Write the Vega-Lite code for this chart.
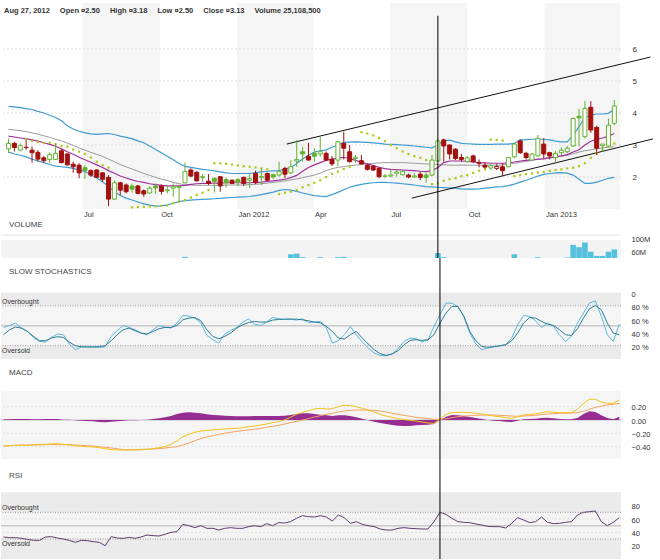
{
"$schema":"https://vega.github.io/schema/vega-lite/v6.json",
"padding":{"top":3,"left":0,"right":0,"bottom":0},
"background":"white",
"bounds":"flush",
"spacing":0,
"config":{"view":{"stroke":null},"font":"Liberation Sans","axis":{"labelFont":"Liberation Sans","labelColor":"#333","domain":false,"ticks":false,"grid":false,"labelOverlap":false},"title":{"font":"Liberation Sans"}},
"datasets":{"w":[
{"d":"2011-04-04","o":2.88,"h":3.2,"l":2.75,"c":3.05,"bu":4.21,"bl":2.78,"ma":3.28,"mb":3.49,"sar":null,"v":35,"k":47.5,"kd":36.5,"m":-0.39,"s":-0.39,"hi":0.01,"r":33},
{"d":"2011-04-11","o":3.05,"h":3.1,"l":2.8,"c":2.92,"bu":4.19,"bl":2.72,"ma":3.25,"mb":3.47,"sar":null,"v":28,"k":50.5,"kd":44,"m":-0.385,"s":-0.385,"hi":0.01,"r":32},
{"d":"2011-04-18","o":2.84,"h":3.05,"l":2.8,"c":2.98,"bu":4.17,"bl":2.68,"ma":3.22,"mb":3.45,"sar":null,"v":25,"k":54,"kd":48,"m":-0.38,"s":-0.38,"hi":0.015,"r":32},
{"d":"2011-04-25","o":2.93,"h":3.15,"l":2.85,"c":2.92,"bu":4.14,"bl":2.63,"ma":3.19,"mb":3.42,"sar":3.18,"v":30,"k":46.5,"kd":46.5,"m":-0.38,"s":-0.375,"hi":0.015,"r":31},
{"d":"2011-05-02","o":2.84,"h":2.95,"l":2.45,"c":2.76,"bu":4.11,"bl":2.56,"ma":3.16,"mb":3.38,"sar":3.13,"v":33,"k":41.5,"kd":41.5,"m":-0.38,"s":-0.375,"hi":0.015,"r":29.5},
{"d":"2011-05-09","o":2.77,"h":2.84,"l":2.48,"c":2.56,"bu":4.05,"bl":2.5,"ma":3.12,"mb":3.34,"sar":3.1,"v":27,"k":32.5,"kd":34,"m":-0.375,"s":-0.37,"hi":0.01,"r":28},
{"d":"2011-05-16","o":2.6,"h":2.66,"l":2.45,"c":2.51,"bu":4.0,"bl":2.45,"ma":3.07,"mb":3.29,"sar":3.07,"v":22,"k":26.5,"kd":27.5,"m":-0.375,"s":-0.365,"hi":0.01,"r":28},
{"d":"2011-05-23","o":2.55,"h":2.78,"l":2.43,"c":2.7,"bu":3.93,"bl":2.39,"ma":3.02,"mb":3.24,"sar":3.07,"v":26,"k":25.5,"kd":27.5,"m":-0.37,"s":-0.365,"hi":0.015,"r":33},
{"d":"2011-05-30","o":2.55,"h":3.05,"l":2.53,"c":2.74,"bu":3.86,"bl":2.34,"ma":2.96,"mb":3.18,"sar":3.03,"v":30,"k":32.5,"kd":31.5,"m":-0.355,"s":-0.365,"hi":0.015,"r":33.5},
{"d":"2011-06-06","o":2.82,"h":2.86,"l":2.43,"c":2.45,"bu":3.76,"bl":2.32,"ma":2.88,"mb":3.13,"sar":2.97,"v":28,"k":37.5,"kd":33.5,"m":-0.355,"s":-0.37,"hi":0.015,"r":31.5},
{"d":"2011-06-13","o":2.72,"h":2.75,"l":2.35,"c":2.38,"bu":3.6,"bl":2.3,"ma":2.79,"mb":3.06,"sar":2.95,"v":24,"k":36.5,"kd":32.5,"m":-0.365,"s":-0.37,"hi":0.005,"r":30},
{"d":"2011-06-20","o":2.4,"h":2.48,"l":2.13,"c":2.32,"bu":3.5,"bl":2.27,"ma":2.71,"mb":2.99,"sar":2.86,"v":26,"k":22.5,"kd":25.5,"m":-0.375,"s":-0.37,"hi":0.005,"r":28},
{"d":"2011-06-27","o":2.37,"h":2.43,"l":1.96,"c":2.13,"bu":3.43,"bl":2.22,"ma":2.62,"mb":2.91,"sar":2.79,"v":32,"k":14,"kd":20,"m":-0.39,"s":-0.375,"hi":-0.005,"r":25},
{"d":"2011-07-04","o":2.29,"h":2.37,"l":1.94,"c":2.2,"bu":3.38,"bl":2.17,"ma":2.54,"mb":2.84,"sar":2.72,"v":29,"k":18,"kd":18.5,"m":-0.395,"s":-0.38,"hi":-0.01,"r":28},
{"d":"2011-07-11","o":2.2,"h":2.24,"l":2.0,"c":2.06,"bu":3.35,"bl":2.07,"ma":2.46,"mb":2.77,"sar":2.61,"v":22,"k":19,"kd":18,"m":-0.4,"s":-0.385,"hi":-0.015,"r":27.5},
{"d":"2011-07-18","o":2.22,"h":2.24,"l":1.97,"c":1.99,"bu":3.33,"bl":1.97,"ma":2.38,"mb":2.71,"sar":2.48,"v":25,"k":18.5,"kd":18,"m":-0.405,"s":-0.39,"hi":-0.02,"r":26},
{"d":"2011-07-25","o":2.13,"h":2.16,"l":1.85,"c":1.93,"bu":3.35,"bl":1.85,"ma":2.3,"mb":2.64,"sar":2.37,"v":27,"k":17.5,"kd":18.5,"m":-0.415,"s":-0.4,"hi":-0.03,"r":25},
{"d":"2011-08-01","o":1.99,"h":2.06,"l":1.09,"c":1.31,"bu":3.36,"bl":1.7,"ma":2.2,"mb":2.56,"sar":2.29,"v":40,"k":18.5,"kd":20,"m":-0.43,"s":-0.41,"hi":-0.035,"r":20},
{"d":"2011-08-08","o":1.31,"h":1.9,"l":1.28,"c":1.82,"bu":3.33,"bl":1.55,"ma":2.12,"mb":2.48,"sar":null,"v":38,"k":34,"kd":27.5,"m":-0.445,"s":-0.42,"hi":-0.025,"r":33.5},
{"d":"2011-08-15","o":1.82,"h":1.85,"l":1.43,"c":1.59,"bu":3.28,"bl":1.42,"ma":2.03,"mb":2.39,"sar":null,"v":30,"k":42.5,"kd":36.5,"m":-0.45,"s":-0.43,"hi":-0.02,"r":31.5},
{"d":"2011-08-22","o":1.75,"h":1.8,"l":1.49,"c":1.54,"bu":3.24,"bl":1.34,"ma":1.97,"mb":2.32,"sar":null,"v":26,"k":50.5,"kd":44,"m":-0.45,"s":-0.445,"hi":-0.01,"r":31},
{"d":"2011-08-29","o":1.72,"h":1.8,"l":1.51,"c":1.62,"bu":3.2,"bl":1.28,"ma":1.91,"mb":2.25,"sar":1.05,"v":22,"k":47.5,"kd":46.5,"m":-0.45,"s":-0.445,"hi":-0.005,"r":32.5},
{"d":"2011-09-05","o":1.72,"h":1.75,"l":1.46,"c":1.49,"bu":3.13,"bl":1.22,"ma":1.86,"mb":2.18,"sar":1.06,"v":25,"k":44,"kd":42.5,"m":-0.45,"s":-0.445,"hi":-0.005,"r":31},
{"d":"2011-09-12","o":1.57,"h":1.61,"l":1.38,"c":1.47,"bu":3.07,"bl":1.16,"ma":1.83,"mb":2.11,"sar":1.07,"v":24,"k":39,"kd":39,"m":-0.445,"s":-0.44,"hi":0,"r":33},
{"d":"2011-09-19","o":1.5,"h":1.72,"l":1.47,"c":1.65,"bu":2.97,"bl":1.12,"ma":1.79,"mb":2.05,"sar":1.08,"v":28,"k":36.5,"kd":37.5,"m":-0.44,"s":-0.44,"hi":0.005,"r":36},
{"d":"2011-09-26","o":1.72,"h":1.8,"l":1.47,"c":1.66,"bu":2.86,"bl":1.09,"ma":1.76,"mb":1.99,"sar":1.09,"v":30,"k":44,"kd":41.5,"m":-0.43,"s":-0.435,"hi":0.015,"r":35},
{"d":"2011-10-03","o":1.72,"h":1.77,"l":1.45,"c":1.55,"bu":2.76,"bl":1.1,"ma":1.74,"mb":1.93,"sar":1.1,"v":27,"k":50.5,"kd":45.5,"m":-0.415,"s":-0.43,"hi":0.025,"r":34.5},
{"d":"2011-10-10","o":1.57,"h":1.72,"l":1.49,"c":1.6,"bu":2.65,"bl":1.13,"ma":1.72,"mb":1.89,"sar":1.11,"v":25,"k":48,"kd":47.5,"m":-0.4,"s":-0.42,"hi":0.04,"r":37},
{"d":"2011-10-17","o":1.65,"h":1.8,"l":1.38,"c":1.7,"bu":2.54,"bl":1.18,"ma":1.72,"mb":1.83,"sar":1.18,"v":32,"k":46.5,"kd":47.5,"m":-0.365,"s":-0.41,"hi":0.06,"r":40},
{"d":"2011-10-24","o":1.67,"h":1.72,"l":1.23,"c":1.7,"bu":2.42,"bl":1.23,"ma":1.72,"mb":1.79,"sar":1.23,"v":36,"k":54,"kd":50.5,"m":-0.315,"s":-0.4,"hi":0.09,"r":41},
{"d":"2011-10-31","o":1.82,"h":2.45,"l":1.8,"c":2.17,"bu":2.33,"bl":1.26,"ma":1.74,"mb":1.76,"sar":1.28,"v":48,"k":65.5,"kd":59,"m":-0.25,"s":-0.375,"hi":0.11,"r":52},
{"d":"2011-11-07","o":2.22,"h":2.27,"l":1.99,"c":2.03,"bu":2.3,"bl":1.28,"ma":1.77,"mb":1.75,"sar":1.36,"v":34,"k":64.5,"kd":61.5,"m":-0.215,"s":-0.345,"hi":0.115,"r":50},
{"d":"2011-11-14","o":2.15,"h":2.18,"l":1.86,"c":1.88,"bu":2.27,"bl":1.29,"ma":1.79,"mb":1.74,"sar":1.44,"v":26,"k":61.5,"kd":62.5,"m":-0.185,"s":-0.31,"hi":0.11,"r":47},
{"d":"2011-11-21","o":1.98,"h":2.09,"l":1.85,"c":2.01,"bu":2.24,"bl":1.3,"ma":1.8,"mb":1.74,"sar":1.51,"v":22,"k":54,"kd":57.5,"m":-0.165,"s":-0.28,"hi":0.1,"r":50},
{"d":"2011-11-28","o":1.87,"h":2.09,"l":1.75,"c":1.8,"bu":2.22,"bl":1.31,"ma":1.8,"mb":1.74,"sar":1.59,"v":28,"k":35.5,"kd":44,"m":-0.155,"s":-0.255,"hi":0.085,"r":46},
{"d":"2011-12-05","o":1.96,"h":1.99,"l":1.51,"c":1.86,"bu":2.19,"bl":1.32,"ma":1.81,"mb":1.74,"sar":2.43,"v":24,"k":29,"kd":34,"m":-0.15,"s":-0.235,"hi":0.075,"r":46},
{"d":"2011-12-12","o":2.01,"h":2.03,"l":1.54,"c":1.72,"bu":2.16,"bl":1.33,"ma":1.81,"mb":1.74,"sar":2.43,"v":30,"k":24,"kd":30.5,"m":-0.14,"s":-0.215,"hi":0.07,"r":43.5},
{"d":"2011-12-19","o":1.92,"h":1.99,"l":1.67,"c":1.82,"bu":2.13,"bl":1.35,"ma":1.82,"mb":1.75,"sar":2.41,"v":22,"k":37.5,"kd":34,"m":-0.135,"s":-0.2,"hi":0.065,"r":46},
{"d":"2011-12-26","o":1.9,"h":1.93,"l":1.78,"c":1.8,"bu":2.11,"bl":1.36,"ma":1.82,"mb":1.75,"sar":2.39,"v":18,"k":43,"kd":39,"m":-0.13,"s":-0.185,"hi":0.06,"r":47},
{"d":"2012-01-02","o":1.92,"h":1.96,"l":1.72,"c":1.84,"bu":2.11,"bl":1.37,"ma":1.82,"mb":1.75,"sar":2.36,"v":24,"k":47.5,"kd":46.5,"m":-0.125,"s":-0.17,"hi":0.055,"r":46},
{"d":"2012-01-09","o":1.99,"h":2.01,"l":1.72,"c":1.8,"bu":2.11,"bl":1.38,"ma":1.82,"mb":1.75,"sar":2.34,"v":20,"k":55.5,"kd":51.5,"m":-0.115,"s":-0.16,"hi":0.055,"r":46},
{"d":"2012-01-16","o":1.9,"h":2.09,"l":1.65,"c":1.95,"bu":2.11,"bl":1.39,"ma":1.82,"mb":1.76,"sar":2.32,"v":26,"k":60.5,"kd":55,"m":-0.1,"s":-0.15,"hi":0.055,"r":48.5},
{"d":"2012-01-23","o":2.11,"h":2.2,"l":1.78,"c":1.82,"bu":2.14,"bl":1.42,"ma":1.83,"mb":1.77,"sar":2.3,"v":22,"k":52.5,"kd":56.5,"m":-0.09,"s":-0.14,"hi":0.06,"r":50},
{"d":"2012-01-30","o":1.98,"h":2.27,"l":1.75,"c":2.02,"bu":2.16,"bl":1.45,"ma":1.84,"mb":1.79,"sar":2.27,"v":34,"k":50.5,"kd":55.5,"m":-0.075,"s":-0.125,"hi":0.06,"r":48.5},
{"d":"2012-02-06","o":2.11,"h":2.14,"l":1.86,"c":1.9,"bu":2.18,"bl":1.49,"ma":1.86,"mb":1.81,"sar":2.24,"v":28,"k":55.5,"kd":55.5,"m":-0.06,"s":-0.11,"hi":0.06,"r":53},
{"d":"2012-02-13","o":2.07,"h":2.11,"l":1.93,"c":2.0,"bu":2.19,"bl":1.53,"ma":1.88,"mb":1.83,"sar":null,"v":30,"k":62.5,"kd":58.5,"m":-0.04,"s":-0.095,"hi":0.06,"r":50},
{"d":"2012-02-20","o":2.06,"h":2.48,"l":2.01,"c":2.17,"bu":2.2,"bl":1.58,"ma":1.9,"mb":1.85,"sar":1.47,"v":38,"k":60.5,"kd":59.5,"m":-0.025,"s":-0.08,"hi":0.06,"r":54.5},
{"d":"2012-02-27","o":2.27,"h":2.32,"l":1.96,"c":2.09,"bu":2.25,"bl":1.61,"ma":1.93,"mb":1.88,"sar":1.51,"v":40,"k":59.5,"kd":60,"m":0,"s":-0.06,"hi":0.065,"r":54},
{"d":"2012-03-05","o":2.13,"h":2.53,"l":2.09,"c":2.32,"bu":2.3,"bl":1.59,"ma":1.98,"mb":1.91,"sar":1.54,"v":56,"k":60,"kd":60,"m":0.04,"s":-0.04,"hi":0.075,"r":56},
{"d":"2012-03-12","o":2.5,"h":3.16,"l":2.32,"c":2.55,"bu":2.42,"bl":1.55,"ma":2.05,"mb":1.94,"sar":1.59,"v":58,"k":58.5,"kd":60,"m":0.085,"s":-0.02,"hi":0.09,"r":61},
{"d":"2012-03-19","o":2.79,"h":2.95,"l":2.48,"c":2.72,"bu":2.56,"bl":1.5,"ma":2.18,"mb":1.98,"sar":1.68,"v":47,"k":60.5,"kd":59,"m":0.115,"s":0,"hi":0.1,"r":65},
{"d":"2012-03-26","o":2.65,"h":3.07,"l":2.51,"c":2.53,"bu":2.68,"bl":1.46,"ma":2.3,"mb":2.02,"sar":1.75,"v":38,"k":55,"kd":57.5,"m":0.14,"s":0.02,"hi":0.1,"r":63.5},
{"d":"2012-04-02","o":2.74,"h":2.9,"l":2.48,"c":2.65,"bu":2.78,"bl":1.42,"ma":2.38,"mb":2.06,"sar":1.82,"v":40,"k":55.5,"kd":55.5,"m":0.165,"s":0.045,"hi":0.09,"r":63},
{"d":"2012-04-09","o":2.72,"h":3.26,"l":2.64,"c":2.79,"bu":2.82,"bl":1.4,"ma":2.45,"mb":2.12,"sar":1.9,"v":47,"k":56.5,"kd":54.5,"m":0.175,"s":0.065,"hi":0.08,"r":65},
{"d":"2012-04-16","o":2.74,"h":2.8,"l":2.5,"c":2.53,"bu":2.85,"bl":1.39,"ma":2.52,"mb":2.2,"sar":2.0,"v":36,"k":46.5,"kd":49,"m":0.165,"s":0.085,"hi":0.07,"r":63},
{"d":"2012-04-23","o":2.55,"h":2.66,"l":2.34,"c":2.41,"bu":2.93,"bl":1.45,"ma":2.56,"mb":2.26,"sar":2.1,"v":40,"k":24,"kd":41.5,"m":0.17,"s":0.1,"hi":0.06,"r":57},
{"d":"2012-04-30","o":2.53,"h":3.13,"l":2.34,"c":3.1,"bu":3.0,"bl":1.52,"ma":2.6,"mb":2.3,"sar":2.17,"v":47,"k":27.5,"kd":31.5,"m":0.2,"s":0.12,"hi":0.07,"r":66},
{"d":"2012-05-07","o":3.05,"h":3.42,"l":2.55,"c":2.9,"bu":3.08,"bl":1.6,"ma":2.61,"mb":2.33,"sar":2.25,"v":48,"k":36.5,"kd":30,"m":0.22,"s":0.135,"hi":0.07,"r":62},
{"d":"2012-05-14","o":2.79,"h":3.0,"l":2.45,"c":2.48,"bu":3.09,"bl":1.68,"ma":2.58,"mb":2.35,"sar":2.32,"v":38,"k":49,"kd":36.5,"m":0.215,"s":0.145,"hi":0.06,"r":53.5},
{"d":"2012-05-21","o":2.58,"h":2.69,"l":2.45,"c":2.62,"bu":3.1,"bl":1.73,"ma":2.52,"mb":2.37,"sar":null,"v":30,"k":36.5,"kd":41.5,"m":0.2,"s":0.15,"hi":0.04,"r":56},
{"d":"2012-05-28","o":2.51,"h":2.69,"l":2.38,"c":2.41,"bu":3.09,"bl":1.77,"ma":2.46,"mb":2.39,"sar":3.4,"v":28,"k":25.5,"kd":31.5,"m":0.175,"s":0.15,"hi":0.02,"r":52},
{"d":"2012-06-04","o":2.37,"h":2.4,"l":2.2,"c":2.24,"bu":3.08,"bl":1.8,"ma":2.41,"mb":2.41,"sar":3.36,"v":30,"k":16.5,"kd":22.5,"m":0.15,"s":0.15,"hi":-0.005,"r":50},
{"d":"2012-06-11","o":2.34,"h":2.38,"l":2.19,"c":2.22,"bu":3.07,"bl":1.82,"ma":2.36,"mb":2.43,"sar":3.3,"v":26,"k":9,"kd":14,"m":0.12,"s":0.145,"hi":-0.025,"r":48.5},
{"d":"2012-06-18","o":2.27,"h":2.3,"l":1.96,"c":2.01,"bu":3.05,"bl":1.83,"ma":2.3,"mb":2.44,"sar":3.22,"v":25,"k":5.5,"kd":8,"m":0.085,"s":0.135,"hi":-0.045,"r":45},
{"d":"2012-06-25","o":2.03,"h":2.1,"l":1.96,"c":2.03,"bu":3.03,"bl":1.83,"ma":2.26,"mb":2.45,"sar":3.12,"v":22,"k":5,"kd":5.5,"m":0.06,"s":0.12,"hi":-0.06,"r":43.5},
{"d":"2012-07-02","o":2.03,"h":2.24,"l":1.99,"c":2.06,"bu":3.02,"bl":1.82,"ma":2.24,"mb":2.45,"sar":3.0,"v":20,"k":7.5,"kd":7.5,"m":0.04,"s":0.1,"hi":-0.075,"r":43.5},
{"d":"2012-07-09","o":2.12,"h":2.24,"l":2.01,"c":2.16,"bu":3.01,"bl":1.81,"ma":2.23,"mb":2.45,"sar":2.9,"v":24,"k":15.5,"kd":12.5,"m":0.02,"s":0.085,"hi":-0.085,"r":46},
{"d":"2012-07-16","o":2.07,"h":2.22,"l":2.04,"c":2.18,"bu":3.0,"bl":1.79,"ma":2.22,"mb":2.45,"sar":2.8,"v":22,"k":26.5,"kd":21.5,"m":0.005,"s":0.07,"hi":-0.09,"r":47},
{"d":"2012-07-23","o":2.06,"h":2.1,"l":1.96,"c":2.0,"bu":2.99,"bl":1.77,"ma":2.21,"mb":2.44,"sar":2.72,"v":25,"k":31.5,"kd":28,"m":-0.005,"s":0.055,"hi":-0.09,"r":46},
{"d":"2012-07-30","o":2.0,"h":2.12,"l":1.98,"c":2.03,"bu":2.97,"bl":1.75,"ma":2.2,"mb":2.43,"sar":2.65,"v":30,"k":30.5,"kd":29,"m":-0.015,"s":0.04,"hi":-0.08,"r":45.5},
{"d":"2012-08-06","o":2.09,"h":2.17,"l":1.9,"c":1.99,"bu":2.95,"bl":1.72,"ma":2.18,"mb":2.42,"sar":2.6,"v":26,"k":25.5,"kd":28,"m":-0.03,"s":0.03,"hi":-0.075,"r":45},
{"d":"2012-08-13","o":2.06,"h":2.14,"l":1.82,"c":1.99,"bu":2.93,"bl":1.7,"ma":2.17,"mb":2.41,"sar":2.53,"v":32,"k":29,"kd":29,"m":-0.045,"s":0.02,"hi":-0.07,"r":45},
{"d":"2012-08-20","o":2.06,"h":2.69,"l":2.03,"c":2.53,"bu":2.91,"bl":1.69,"ma":2.2,"mb":2.4,"sar":1.78,"v":42,"k":49,"kd":36.5,"m":-0.05,"s":0.01,"hi":-0.06,"r":56},
{"d":"2012-08-27","o":2.5,"h":3.18,"l":2.5,"c":3.13,"bu":3.0,"bl":1.68,"ma":2.3,"mb":2.39,"sar":1.8,"v":60,"k":66.5,"kd":54,"m":0.01,"s":0.01,"hi":0,"r":70},
{"d":"2012-09-03","o":3.16,"h":3.2,"l":2.48,"c":2.97,"bu":3.13,"bl":1.67,"ma":2.45,"mb":2.38,"sar":1.88,"v":47,"k":84,"kd":69,"m":0.085,"s":0.02,"hi":0.05,"r":67},
{"d":"2012-09-10","o":3.0,"h":3.02,"l":2.55,"c":2.72,"bu":3.15,"bl":1.66,"ma":2.5,"mb":2.37,"sar":1.93,"v":36,"k":84,"kd":79,"m":0.11,"s":0.035,"hi":0.075,"r":61},
{"d":"2012-09-17","o":2.87,"h":2.9,"l":2.53,"c":2.58,"bu":3.1,"bl":1.65,"ma":2.5,"mb":2.37,"sar":1.96,"v":30,"k":79,"kd":79,"m":0.115,"s":0.05,"hi":0.07,"r":56},
{"d":"2012-09-24","o":2.61,"h":2.72,"l":2.48,"c":2.55,"bu":3.05,"bl":1.63,"ma":2.5,"mb":2.37,"sar":2.03,"v":28,"k":64,"kd":64,"m":0.115,"s":0.06,"hi":0.06,"r":55},
{"d":"2012-10-01","o":2.48,"h":2.66,"l":2.45,"c":2.6,"bu":3.04,"bl":1.62,"ma":2.49,"mb":2.37,"sar":2.06,"v":26,"k":39,"kd":41.5,"m":0.11,"s":0.065,"hi":0.045,"r":54.5},
{"d":"2012-10-08","o":2.66,"h":2.7,"l":2.45,"c":2.48,"bu":3.03,"bl":1.62,"ma":2.47,"mb":2.37,"sar":2.13,"v":24,"k":22.5,"kd":27.5,"m":0.1,"s":0.07,"hi":0.03,"r":52.5},
{"d":"2012-10-15","o":2.45,"h":2.55,"l":2.3,"c":2.43,"bu":3.02,"bl":1.63,"ma":2.45,"mb":2.37,"sar":2.2,"v":22,"k":14,"kd":19,"m":0.09,"s":0.075,"hi":0.015,"r":51},
{"d":"2012-10-22","o":2.37,"h":2.45,"l":2.27,"c":2.31,"bu":3.02,"bl":1.65,"ma":2.44,"mb":2.37,"sar":2.24,"v":26,"k":16.5,"kd":17.5,"m":0.075,"s":0.075,"hi":0,"r":49},
{"d":"2012-10-29","o":2.28,"h":2.41,"l":2.22,"c":2.35,"bu":3.02,"bl":1.67,"ma":2.43,"mb":2.37,"sar":3.17,"v":24,"k":18.5,"kd":18.5,"m":0.06,"s":0.075,"hi":-0.01,"r":48.5},
{"d":"2012-11-05","o":2.27,"h":2.4,"l":2.22,"c":2.33,"bu":3.03,"bl":1.69,"ma":2.43,"mb":2.37,"sar":3.16,"v":28,"k":19.5,"kd":20,"m":0.05,"s":0.07,"hi":-0.015,"r":48.5},
{"d":"2012-11-12","o":2.32,"h":2.43,"l":2.02,"c":2.2,"bu":3.03,"bl":1.7,"ma":2.43,"mb":2.38,"sar":3.14,"v":30,"k":21.5,"kd":21.5,"m":0.035,"s":0.065,"hi":-0.025,"r":46.5},
{"d":"2012-11-19","o":2.32,"h":2.63,"l":2.3,"c":2.61,"bu":3.03,"bl":1.73,"ma":2.45,"mb":2.4,"sar":null,"v":34,"k":31.5,"kd":27.5,"m":0.025,"s":0.06,"hi":-0.03,"r":53.5},
{"d":"2012-11-26","o":2.63,"h":3.07,"l":2.58,"c":3.03,"bu":3.05,"bl":1.78,"ma":2.47,"mb":2.43,"sar":2.03,"v":56,"k":51.5,"kd":39,"m":0.05,"s":0.055,"hi":-0.01,"r":62},
{"d":"2012-12-03","o":3.13,"h":3.17,"l":2.72,"c":2.76,"bu":3.16,"bl":1.84,"ma":2.5,"mb":2.46,"sar":2.06,"v":38,"k":65.5,"kd":54,"m":0.075,"s":0.06,"hi":0.01,"r":58.5},
{"d":"2012-12-10","o":2.74,"h":2.79,"l":2.55,"c":2.61,"bu":3.17,"bl":1.9,"ma":2.52,"mb":2.49,"sar":2.09,"v":30,"k":64,"kd":62.5,"m":0.085,"s":0.065,"hi":0.015,"r":54.5},
{"d":"2012-12-17","o":2.53,"h":2.74,"l":2.51,"c":2.72,"bu":3.18,"bl":1.96,"ma":2.54,"mb":2.52,"sar":2.11,"v":28,"k":57.5,"kd":61.5,"m":0.09,"s":0.07,"hi":0.02,"r":56},
{"d":"2012-12-24","o":2.66,"h":3.31,"l":2.64,"c":3.21,"bu":3.18,"bl":2.03,"ma":2.56,"mb":2.55,"sar":2.14,"v":47,"k":47.5,"kd":56.5,"m":0.11,"s":0.08,"hi":0.03,"r":63},
{"d":"2012-12-31","o":3.03,"h":3.21,"l":2.58,"c":2.72,"bu":3.18,"bl":2.08,"ma":2.57,"mb":2.58,"sar":2.16,"v":30,"k":54,"kd":52.5,"m":0.125,"s":0.09,"hi":0.035,"r":55},
{"d":"2013-01-07","o":2.76,"h":2.79,"l":2.55,"c":2.66,"bu":3.16,"bl":2.11,"ma":2.6,"mb":2.61,"sar":2.19,"v":34,"k":49,"kd":50.5,"m":0.115,"s":0.095,"hi":0.025,"r":53},
{"d":"2013-01-14","o":2.61,"h":2.82,"l":2.45,"c":2.74,"bu":3.12,"bl":2.13,"ma":2.63,"mb":2.63,"sar":2.22,"v":36,"k":36.5,"kd":44,"m":0.11,"s":0.1,"hi":0.015,"r":53.5},
{"d":"2013-01-21","o":2.76,"h":2.93,"l":2.69,"c":2.84,"bu":3.1,"bl":2.14,"ma":2.66,"mb":2.65,"sar":2.24,"v":38,"k":26.5,"kd":36.5,"m":0.11,"s":0.1,"hi":0.01,"r":55},
{"d":"2013-01-28","o":2.79,"h":2.97,"l":2.74,"c":2.9,"bu":3.1,"bl":2.12,"ma":2.7,"mb":2.68,"sar":2.27,"v":46,"k":34,"kd":35.5,"m":0.11,"s":0.105,"hi":0.01,"r":56},
{"d":"2013-02-04","o":2.97,"h":3.86,"l":2.94,"c":3.83,"bu":3.3,"bl":2.06,"ma":2.78,"mb":2.73,"sar":2.29,"v":85,"k":54,"kd":45.5,"m":0.16,"s":0.11,"hi":0.03,"r":66},
{"d":"2013-02-11","o":3.9,"h":4.14,"l":2.95,"c":3.85,"bu":3.58,"bl":1.93,"ma":2.85,"mb":2.78,"sar":2.34,"v":78,"k":69,"kd":61.5,"m":0.25,"s":0.13,"hi":0.09,"r":70},
{"d":"2013-02-18","o":3.26,"h":4.38,"l":3.21,"c":4.14,"bu":3.85,"bl":1.8,"ma":3.0,"mb":2.82,"sar":2.43,"v":92,"k":84,"kd":75.5,"m":0.31,"s":0.16,"hi":0.13,"r":71},
{"d":"2013-02-25","o":4.18,"h":4.37,"l":3.38,"c":3.47,"bu":3.93,"bl":1.8,"ma":3.12,"mb":2.85,"sar":2.6,"v":64,"k":87.5,"kd":80.5,"m":0.31,"s":0.19,"hi":0.12,"r":72},
{"d":"2013-03-04","o":3.55,"h":3.6,"l":2.69,"c":2.9,"bu":3.97,"bl":1.84,"ma":3.18,"mb":2.88,"sar":2.74,"v":51,"k":64,"kd":74,"m":0.27,"s":0.21,"hi":0.07,"r":56},
{"d":"2013-03-11","o":2.98,"h":3.03,"l":2.79,"c":3.03,"bu":3.97,"bl":1.9,"ma":3.22,"mb":2.91,"sar":2.85,"v":51,"k":36.5,"kd":54,"m":0.25,"s":0.225,"hi":0.03,"r":50},
{"d":"2013-03-18","o":2.97,"h":3.83,"l":2.95,"c":3.62,"bu":3.99,"bl":1.96,"ma":3.28,"mb":2.93,"sar":2.95,"v":64,"k":26.5,"kd":39,"m":0.25,"s":0.235,"hi":0.01,"r":55},
{"d":"2013-03-25","o":3.68,"h":4.41,"l":3.62,"c":4.22,"bu":4.12,"bl":1.99,"ma":3.36,"mb":2.95,"sar":3.05,"v":71,"k":52.5,"kd":36.5,"m":0.3,"s":0.25,"hi":0.05,"r":62}
]},
"vconcat":[
{
"width":620,"height":206,
"title":{"text":"Aug 27, 2012\u2003\u2004Open ¤2.50\u2003\u2004High ¤3.18\u2003\u2004Low ¤2.50\u2003\u2004Close ¤3.13\u2003\u2004Volume 25,108,500","anchor":"start","frame":"group","offset":-11,"dx":3,"fontSize":7.5,"fontWeight":"bold","color":"#333"},
"layer":[
{"data":{"values":[{"a":"2011-07-01","b":"2011-10-01"},{"a":"2012-01-01","b":"2012-04-01"},{"a":"2012-07-01","b":"2012-10-01"},{"a":"2013-01-01","b":"2013-04-01"}]},
 "mark":{"type":"rect","color":"#f5f5f5","clip":true},
 "encoding":{"x":{"field":"a","type":"temporal","title":null,"scale":{"type":"utc","domain":[{"year":2011,"month":4,"date":1,"utc":true},{"year":2013,"month":3,"date":27,"utc":true}]}},"x2":{"field":"b"}}},
{"data":{"values":[{"g":2},{"g":3},{"g":4},{"g":5},{"g":6}]},
 "mark":{"type":"rule","color":"#dedede","strokeDash":[2,2],"strokeWidth":1},
 "encoding":{"y":{"field":"g","type":"quantitative","title":null,"scale":{"domain":[1.0,7.44],"nice":false,"zero":false}}}},
{"data":{"name":"w"},"mark":{"type":"line","color":"#3f9bd4","strokeWidth":1.2},
 "encoding":{"x":{"field":"d","type":"temporal","title":null},"y":{"field":"bu","type":"quantitative","title":null}}},
{"data":{"name":"w"},"mark":{"type":"line","color":"#3f9bd4","strokeWidth":1.2},
 "encoding":{"x":{"field":"d","type":"temporal","title":null},"y":{"field":"bl","type":"quantitative","title":null}}},
{"data":{"name":"w"},"mark":{"type":"line","color":"#9a9a9a","strokeWidth":1},
 "encoding":{"x":{"field":"d","type":"temporal","title":null},"y":{"field":"mb","type":"quantitative","title":null}}},
{"data":{"name":"w"},"mark":{"type":"line","color":"#a1309f","strokeWidth":1.2},
 "encoding":{"x":{"field":"d","type":"temporal","title":null},"y":{"field":"ma","type":"quantitative","title":null}}},
{"data":{"values":[{"id":1,"d":"2012-02-29","p":3.03},{"id":1,"d":"2013-05-07","p":5.75},{"id":2,"d":"2012-07-27","p":1.34},{"id":2,"d":"2013-05-10","p":3.19}]},
 "mark":{"type":"line","color":"#111","strokeWidth":1},
 "encoding":{"x":{"field":"d","type":"temporal","title":null},"y":{"field":"p","type":"quantitative","title":null},"detail":{"field":"id"}}},
{"data":{"name":"w"},"mark":{"type":"square","color":"#b3c81c","size":5,"opacity":1},
 "encoding":{"x":{"field":"d","type":"temporal","title":null},"y":{"field":"sar","type":"quantitative","title":null}}},
{"data":{"name":"w"},
 "transform":[{"window":[{"op":"lag","field":"c","as":"pc"}],"sort":[{"field":"d"}]}],
 "mark":{"type":"rule","strokeWidth":1},
 "encoding":{
  "x":{"field":"d","type":"temporal","title":null,"axis":{"orient":"bottom","values":[{"year":2011,"month":7,"date":1,"utc":true},{"year":2011,"month":10,"date":1,"utc":true},{"year":2012,"month":1,"date":1,"utc":true},{"year":2012,"month":4,"date":1,"utc":true},{"year":2012,"month":7,"date":1,"utc":true},{"year":2012,"month":10,"date":1,"utc":true},{"year":2013,"month":1,"date":1,"utc":true}],"tickCount":20,"labelExpr":"utcFormat(datum.value, utcmonth(datum.value)==0 ? '%b %Y' : '%b')","labelAlign":"left","labelOffset":1,"labelPadding":1,"labelFontSize":7.5,"labelColor":"#333","labelOverlap":false}},
  "y":{"field":"l","type":"quantitative","title":null,"axis":{"orient":"right","values":[2,3,4,5,6],"tickCount":20,"format":"d","labelFontSize":8,"labelPadding":11,"labelColor":"#333","labelOverlap":false}},
  "y2":{"field":"h"},
  "color":{"condition":{"test":"datum.pc == null || datum.c >= datum.pc","value":"#62b22f"},"value":"#a3100f"}}},
{"data":{"name":"w"},
 "transform":[{"window":[{"op":"lag","field":"c","as":"pc"}],"sort":[{"field":"d"}]}],
 "mark":{"type":"bar","size":4,"strokeWidth":1},
 "encoding":{
  "x":{"field":"d","type":"temporal","title":null},
  "y":{"field":"o","type":"quantitative","title":null},
  "y2":{"field":"c"},
  "fill":{"condition":[{"test":"datum.c > datum.o","value":"#ffffff"},{"test":"datum.pc == null || datum.c >= datum.pc","value":"#62b22f"}],"value":"#a3100f"},
  "stroke":{"condition":{"test":"datum.pc == null || datum.c >= datum.pc","value":"#62b22f"},"value":"#a3100f"}}},
{"data":{"values":[{}]},"mark":{"type":"rule","color":"#000","strokeWidth":1},
 "encoding":{"x":{"datum":{"year":2012,"month":8,"date":27,"utc":true},"type":"temporal","title":null},"y":{"datum":7.04,"type":"quantitative","title":null},"y2":{"datum":1.0}}}
]},
{
"width":620,"height":49,
"title":{"text":"VOLUME","anchor":"start","frame":"group","offset":-20,"dx":8,"fontSize":8,"fontWeight":"normal","color":"#444"},
"layer":[
{"data":{"values":[{}]},"mark":{"type":"rect","color":"#f3f3f3"},
 "encoding":{"y":{"datum":44.6,"type":"quantitative","title":null,"scale":{"domain":[44.6,195.4],"nice":false,"zero":false}},"y2":{"datum":100}}},
{"data":{"values":[{}]},"mark":{"type":"rule","color":"#e2e2e2","strokeWidth":1},
 "encoding":{"y":{"datum":115,"type":"quantitative","title":null}}},
{"data":{"name":"w"},"mark":{"type":"bar","size":5.6,"color":"#55c1de","clip":true},
 "encoding":{"x":{"field":"d","type":"temporal","scale":{"type":"utc","domain":[{"year":2011,"month":4,"date":1,"utc":true},{"year":2013,"month":3,"date":27,"utc":true}]},"axis":null},
  "y":{"field":"v","type":"quantitative","title":null,"axis":{"orient":"right","values":[60,100],"tickCount":20,"labelExpr":"datum.value + 'M'","labelFontSize":7.5,"labelPadding":10,"labelColor":"#333","labelOverlap":false}},"y2":{"datum":0}}},
{"data":{"values":[{}]},"mark":{"type":"rule","color":"#000","strokeWidth":1},
 "encoding":{"x":{"datum":{"year":2012,"month":8,"date":27,"utc":true},"type":"temporal","axis":null}}}
]},
{
"width":620,"height":101,
"title":{"text":"SLOW STOCHASTICS","anchor":"start","frame":"group","offset":-18,"dx":8,"fontSize":8,"fontWeight":"normal","color":"#444"},
"layer":[
{"data":{"values":[{"a":80,"b":100,"t":"o"},{"a":20,"b":80,"t":"m"},{"a":0,"b":20,"t":"o"}]},
 "mark":{"type":"rect"},
 "encoding":{"y":{"field":"a","type":"quantitative","title":null,"scale":{"domain":[0,152],"nice":false,"zero":false}},"y2":{"field":"b"},
  "color":{"condition":{"test":"datum.t == 'o'","value":"#ebebeb"},"value":"#f5f5f5"}}},
{"data":{"values":[{"g":80},{"g":20}]},"mark":{"type":"rule","color":"#999","strokeDash":[1,1.5],"strokeWidth":1},
 "encoding":{"y":{"field":"g","type":"quantitative","title":null}}},
{"data":{"values":[{"g":50}]},"mark":{"type":"rule","color":"#cacaca","strokeWidth":1.5},
 "encoding":{"y":{"field":"g","type":"quantitative","title":null}}},
{"data":{"values":[{"t":"Overbought","g":80}]},
 "mark":{"type":"text","align":"left","baseline":"bottom","dx":1,"dy":-1,"fontSize":7,"color":"#333"},
 "encoding":{"x":{"datum":{"year":2011,"month":4,"date":1,"utc":true},"type":"temporal","scale":{"type":"utc","domain":[{"year":2011,"month":4,"date":1,"utc":true},{"year":2013,"month":3,"date":27,"utc":true}]},"axis":null},
  "y":{"field":"g","type":"quantitative","title":null},"text":{"field":"t"}}},
{"data":{"values":[{"t":"Oversold","g":20}]},
 "mark":{"type":"text","align":"left","baseline":"top","dx":1,"dy":1,"fontSize":7,"color":"#333"},
 "encoding":{"x":{"datum":{"year":2011,"month":4,"date":1,"utc":true},"type":"temporal","axis":null},
  "y":{"field":"g","type":"quantitative","title":null},"text":{"field":"t"}}},
{"data":{"name":"w"},"mark":{"type":"line","color":"#5ab6df","strokeWidth":1},
 "encoding":{"x":{"field":"d","type":"temporal","axis":null},"y":{"field":"k","type":"quantitative","title":null,"axis":{"orient":"right","values":[20,40,60,80,100],"tickCount":20,"labelExpr":"datum.value == 100 ? '0' : datum.value + ' %'","labelFontSize":7.5,"labelPadding":10,"labelOffset":2,"labelColor":"#333","labelOverlap":false}}}},
{"data":{"name":"w"},"mark":{"type":"line","color":"#2b7d92","strokeWidth":1},
 "encoding":{"x":{"field":"d","type":"temporal","axis":null},"y":{"field":"kd","type":"quantitative","title":null}}},
{"data":{"values":[{}]},"mark":{"type":"rule","color":"#000","strokeWidth":1},
 "encoding":{"x":{"datum":{"year":2012,"month":8,"date":27,"utc":true},"type":"temporal","axis":null}}}
]},
{
"width":620,"height":100,
"title":{"text":"MACD","anchor":"start","frame":"group","offset":-18,"dx":8,"fontSize":8,"fontWeight":"normal","color":"#444"},
"layer":[
{"data":{"values":[{}]},"mark":{"type":"rect","color":"#f5f5f5"},
 "encoding":{"y":{"datum":-0.585,"type":"quantitative","title":null,"scale":{"domain":[-0.585,0.915],"nice":false,"zero":false}},"y2":{"datum":0.435}}},
{"data":{"values":[{"g":0.2},{"g":-0.2},{"g":-0.4}]},"mark":{"type":"rule","color":"#e3e3e3","strokeDash":[2,2],"strokeWidth":1},
 "encoding":{"y":{"field":"g","type":"quantitative","title":null}}},
{"data":{"values":[{"g":0}]},"mark":{"type":"rule","color":"#c4c4c4","strokeWidth":1},
 "encoding":{"y":{"field":"g","type":"quantitative","title":null}}},
{"data":{"name":"w"},"mark":{"type":"area","color":"#962d92","opacity":1},
 "encoding":{"x":{"field":"d","type":"temporal","scale":{"type":"utc","domain":[{"year":2011,"month":4,"date":1,"utc":true},{"year":2013,"month":3,"date":27,"utc":true}]},"axis":null},"y":{"field":"hi","type":"quantitative","title":null,"axis":{"orient":"right","values":[0.2,0,-0.2,-0.4],"tickCount":20,"format":".2f","labelFontSize":7.5,"labelPadding":10,"labelOffset":1,"labelColor":"#333","labelOverlap":false}},"y2":{"datum":0}}},
{"data":{"name":"w"},"mark":{"type":"line","color":"#f4a361","strokeWidth":1},
 "encoding":{"x":{"field":"d","type":"temporal","axis":null},"y":{"field":"s","type":"quantitative","title":null}}},
{"data":{"name":"w"},"mark":{"type":"line","color":"#f2c31a","strokeWidth":1},
 "encoding":{"x":{"field":"d","type":"temporal","axis":null},"y":{"field":"m","type":"quantitative","title":null}}},
{"data":{"values":[{}]},"mark":{"type":"rule","color":"#000","strokeWidth":1},
 "encoding":{"x":{"datum":{"year":2012,"month":8,"date":27,"utc":true},"type":"temporal","axis":null}}}
]},
{
"width":620,"height":100,
"title":{"text":"RSI","anchor":"start","frame":"group","offset":-21,"dx":8,"fontSize":8,"fontWeight":"normal","color":"#444"},
"layer":[
{"data":{"values":[{"a":70,"b":100,"t":"o"},{"a":30,"b":70,"t":"m"},{"a":0,"b":30,"t":"o"}]},
 "mark":{"type":"rect"},
 "encoding":{"y":{"field":"a","type":"quantitative","title":null,"scale":{"domain":[0,150],"nice":false,"zero":false}},"y2":{"field":"b"},
  "color":{"condition":{"test":"datum.t == 'o'","value":"#ebebeb"},"value":"#f4f4f4"}}},
{"data":{"values":[{"g":60},{"g":40}]},"mark":{"type":"rule","color":"#e0e0e0","strokeDash":[2,2],"strokeWidth":1},
 "encoding":{"y":{"field":"g","type":"quantitative","title":null}}},
{"data":{"values":[{"g":70},{"g":30}]},"mark":{"type":"rule","color":"#999","strokeDash":[1,1.5],"strokeWidth":1},
 "encoding":{"y":{"field":"g","type":"quantitative","title":null}}},
{"data":{"values":[{"g":50}]},"mark":{"type":"rule","color":"#cacaca","strokeWidth":1.5},
 "encoding":{"y":{"field":"g","type":"quantitative","title":null}}},
{"data":{"values":[{"t":"Overbought","g":70}]},
 "mark":{"type":"text","align":"left","baseline":"bottom","dx":1,"dy":-1,"fontSize":7,"color":"#333"},
 "encoding":{"x":{"datum":{"year":2011,"month":4,"date":1,"utc":true},"type":"temporal","scale":{"type":"utc","domain":[{"year":2011,"month":4,"date":1,"utc":true},{"year":2013,"month":3,"date":27,"utc":true}]},"axis":null},
  "y":{"field":"g","type":"quantitative","title":null},"text":{"field":"t"}}},
{"data":{"values":[{"t":"Oversold","g":30}]},
 "mark":{"type":"text","align":"left","baseline":"top","dx":1,"dy":1,"fontSize":7,"color":"#333"},
 "encoding":{"x":{"datum":{"year":2011,"month":4,"date":1,"utc":true},"type":"temporal","axis":null},
  "y":{"field":"g","type":"quantitative","title":null},"text":{"field":"t"}}},
{"data":{"name":"w"},"mark":{"type":"line","color":"#5d3c72","strokeWidth":1},
 "encoding":{"x":{"field":"d","type":"temporal","axis":null},"y":{"field":"r","type":"quantitative","title":null,"axis":{"orient":"right","values":[20,40,60,80],"tickCount":20,"format":"d","labelFontSize":7.5,"labelPadding":10,"labelOffset":1,"labelColor":"#333","labelOverlap":false}}}},
{"data":{"values":[{}]},"mark":{"type":"rule","color":"#000","strokeWidth":1},
 "encoding":{"x":{"datum":{"year":2012,"month":8,"date":27,"utc":true},"type":"temporal","axis":null}}}
]}
]
}
